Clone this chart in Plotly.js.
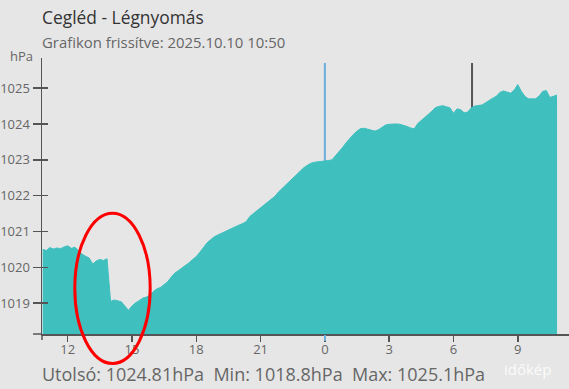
<!DOCTYPE html>
<html>
<head>
<meta charset="utf-8">
<script src="https://cdn.plot.ly/plotly-3.0.1.min.js"></script>
<style>
  html, body { margin: 0; padding: 0; background: #e6e6e6; }
  #chart { width: 569px; height: 389px; }
</style>
</head>
<body>
<div id="chart"></div>
<script>
// Cegléd air pressure, last 24 hours, 10-minute readings (hPa)
const times = [
  '2025-10-09 10:50',
  '2025-10-09 11:00','2025-10-09 11:10','2025-10-09 11:20','2025-10-09 11:30','2025-10-09 11:40','2025-10-09 11:50',
  '2025-10-09 12:00','2025-10-09 12:10','2025-10-09 12:20','2025-10-09 12:30','2025-10-09 12:40','2025-10-09 12:50',
  '2025-10-09 13:00','2025-10-09 13:10','2025-10-09 13:20','2025-10-09 13:30','2025-10-09 13:40','2025-10-09 13:50',
  '2025-10-09 14:00','2025-10-09 14:10','2025-10-09 14:20','2025-10-09 14:30','2025-10-09 14:40','2025-10-09 14:50',
  '2025-10-09 15:00','2025-10-09 15:10','2025-10-09 15:20','2025-10-09 15:30','2025-10-09 15:40','2025-10-09 15:50',
  '2025-10-09 16:00','2025-10-09 16:10','2025-10-09 16:20','2025-10-09 16:30','2025-10-09 16:40','2025-10-09 16:50',
  '2025-10-09 17:00','2025-10-09 17:10','2025-10-09 17:20','2025-10-09 17:30','2025-10-09 17:40','2025-10-09 17:50',
  '2025-10-09 18:00','2025-10-09 18:10','2025-10-09 18:20','2025-10-09 18:30','2025-10-09 18:40','2025-10-09 18:50',
  '2025-10-09 19:00','2025-10-09 19:10','2025-10-09 19:20','2025-10-09 19:30','2025-10-09 19:40','2025-10-09 19:50',
  '2025-10-09 20:00','2025-10-09 20:10','2025-10-09 20:20','2025-10-09 20:30','2025-10-09 20:40','2025-10-09 20:50',
  '2025-10-09 21:00','2025-10-09 21:10','2025-10-09 21:20','2025-10-09 21:30','2025-10-09 21:40','2025-10-09 21:50',
  '2025-10-09 22:00','2025-10-09 22:10','2025-10-09 22:20','2025-10-09 22:30','2025-10-09 22:40','2025-10-09 22:50',
  '2025-10-09 23:00','2025-10-09 23:10','2025-10-09 23:20','2025-10-09 23:30','2025-10-09 23:40','2025-10-09 23:50',
  '2025-10-10 00:00','2025-10-10 00:10','2025-10-10 00:20','2025-10-10 00:30','2025-10-10 00:40','2025-10-10 00:50',
  '2025-10-10 01:00','2025-10-10 01:10','2025-10-10 01:20','2025-10-10 01:30','2025-10-10 01:40','2025-10-10 01:50',
  '2025-10-10 02:00','2025-10-10 02:10','2025-10-10 02:20','2025-10-10 02:30','2025-10-10 02:40','2025-10-10 02:50',
  '2025-10-10 03:00','2025-10-10 03:10','2025-10-10 03:20','2025-10-10 03:30','2025-10-10 03:40','2025-10-10 03:50',
  '2025-10-10 04:00','2025-10-10 04:10','2025-10-10 04:20','2025-10-10 04:30','2025-10-10 04:40','2025-10-10 04:50',
  '2025-10-10 05:00','2025-10-10 05:10','2025-10-10 05:20','2025-10-10 05:30','2025-10-10 05:40','2025-10-10 05:50',
  '2025-10-10 06:00','2025-10-10 06:10','2025-10-10 06:20','2025-10-10 06:30','2025-10-10 06:40','2025-10-10 06:50',
  '2025-10-10 07:00','2025-10-10 07:10','2025-10-10 07:20','2025-10-10 07:30','2025-10-10 07:40','2025-10-10 07:50',
  '2025-10-10 08:00','2025-10-10 08:10','2025-10-10 08:20','2025-10-10 08:30','2025-10-10 08:40','2025-10-10 08:50',
  '2025-10-10 09:00','2025-10-10 09:10','2025-10-10 09:20','2025-10-10 09:30','2025-10-10 09:40','2025-10-10 09:50',
  '2025-10-10 10:00','2025-10-10 10:10','2025-10-10 10:20','2025-10-10 10:30','2025-10-10 10:40','2025-10-10 10:50'
];

const pressure = [
  1020.50,
  1020.47, 1020.55, 1020.51, 1020.54, 1020.52, 1020.57,
  1020.60, 1020.53, 1020.56, 1020.47, 1020.37, 1020.31,
  1020.26, 1020.09, 1020.18, 1020.22, 1020.19, 1020.24,
  1019.05, 1019.09, 1019.07, 1019.04, 1018.92, 1018.8,
  1018.92, 1019.01, 1019.07, 1019.14, 1019.17, 1019.22,
  1019.33, 1019.40, 1019.44, 1019.51, 1019.60, 1019.73,
  1019.84, 1019.91, 1019.98, 1020.06, 1020.13, 1020.22,
  1020.30, 1020.42, 1020.55, 1020.68, 1020.77, 1020.85,
  1020.90, 1020.95, 1020.99, 1021.04, 1021.08, 1021.13,
  1021.18, 1021.22, 1021.28, 1021.42, 1021.50, 1021.57,
  1021.64, 1021.72, 1021.80, 1021.88, 1021.98, 1022.10,
  1022.20, 1022.28, 1022.38, 1022.48, 1022.58, 1022.67,
  1022.77, 1022.84, 1022.90, 1022.93, 1022.94, 1022.96,
  1022.95, 1022.98, 1023.00, 1023.11, 1023.22, 1023.35,
  1023.48, 1023.61, 1023.71, 1023.80, 1023.87, 1023.88,
  1023.86, 1023.83, 1023.80, 1023.84, 1023.90, 1023.97,
  1023.99, 1024.00, 1024.00, 1023.99, 1023.97, 1023.93,
  1023.89, 1023.86, 1024.01, 1024.09, 1024.18, 1024.27,
  1024.36, 1024.46, 1024.49, 1024.51, 1024.48, 1024.45,
  1024.30, 1024.42, 1024.40, 1024.31, 1024.33, 1024.45,
  1024.50, 1024.51, 1024.53, 1024.59, 1024.66, 1024.72,
  1024.77, 1024.88, 1024.92, 1024.90, 1024.86, 1024.94,
  1025.1, 1024.91, 1024.77, 1024.70, 1024.69, 1024.70,
  1024.78, 1024.91, 1024.93, 1024.74, 1024.77, 1024.81
];

// x axis ticks every 3 hours
const tickTimes = ['2025-10-09 12:00','2025-10-09 15:00','2025-10-09 18:00','2025-10-09 21:00',
                   '2025-10-10 00:00','2025-10-10 03:00','2025-10-10 06:00','2025-10-10 09:00'];
const tickLabels = ['12','15','18','21','0','3','6','9'];

// y axis ticks
const yTicks = [1019, 1020, 1021, 1022, 1023, 1024, 1025];

// day change and sunrise markers
const midnight = '2025-10-10 00:00';
const sunrise = '2025-10-10 06:52';
const markerTop = 1025.7;

const xRange = ['2025-10-09 10:48', '2025-10-10 11:23:30'];
const yRange = [1018.14, 1025.84];

const last = pressure[pressure.length - 1];
const minP = Math.min(...pressure);
const maxP = Math.max(...pressure);
const gap = '\u00a0\u00a0';
const statText = 'Utolsó: ' + last + 'hPa' + gap + 'Min: ' + minP + 'hPa' + gap + 'Max: ' + maxP + 'hPa';

const FONT = '"Open Sans", "Noto Sans", sans-serif';
const AXIS = '#555';
const TEXT = '#666';

const data = [
  {
    x: times, y: pressure,
    type: 'scatter', mode: 'lines',
    fill: 'tozeroy', fillcolor: '#40bfbf',
    line: {color: '#40bfbf', width: 1},
    hoverinfo: 'x+y'
  },
  // empty trace so the overlay axes get their own subplot
  {x: [], y: [], xaxis: 'x2', yaxis: 'y2', type: 'scatter', mode: 'lines', showlegend: false, hoverinfo: 'skip'}
];

const layout = {
  width: 569, height: 389,
  margin: {l: 42, r: 0, t: 58, b: 55, pad: 0},
  paper_bgcolor: '#e6e6e6',
  plot_bgcolor: '#e6e6e6',
  showlegend: false,
  font: {family: FONT, color: TEXT, size: 13},
  xaxis: {
    type: 'date', range: xRange,
    tickmode: 'array', tickvals: tickTimes, ticktext: tickLabels,
    ticks: 'outside', ticklen: 6, tickwidth: 1.5, tickcolor: AXIS,
    showline: true, linecolor: AXIS, linewidth: 1.5,
    showgrid: false, zeroline: false,
    tickfont: {size: 13, color: TEXT},
    ticklabelstandoff: -3
  },
  yaxis: {
    range: yRange,
    tickmode: 'array', tickvals: yTicks,
    ticks: 'outside', ticklen: 8, tickwidth: 1.5, tickcolor: AXIS,
    showline: true, linecolor: AXIS, linewidth: 1.5,
    showgrid: false, zeroline: false,
    tickfont: {size: 13, color: TEXT},
    ticklabelstandoff: 0
  },
  // midnight tick in blue
  xaxis2: {
    type: 'date', range: xRange, overlaying: 'x', anchor: 'y2',
    tickmode: 'array', tickvals: [midnight],
    ticks: 'outside', ticklen: 6, tickwidth: 1.5, tickcolor: '#6aaee0',
    showticklabels: false, showline: false, showgrid: false, zeroline: false
  },
  // inner half of the y tick marks
  yaxis2: {
    range: yRange, overlaying: 'y', anchor: 'x2', side: 'left',
    tickmode: 'array', tickvals: yTicks,
    ticks: 'inside', ticklen: 6, tickwidth: 1.5, tickcolor: AXIS,
    showticklabels: false, showline: false, showgrid: false, zeroline: false
  },
  shapes: [
    {type: 'line', layer: 'below', xref: 'x', yref: 'y', x0: midnight, x1: midnight, y0: yRange[0], y1: markerTop,
     line: {color: '#6aaee0', width: 2}},
    {type: 'line', layer: 'below', xref: 'x', yref: 'y', x0: sunrise, x1: sunrise, y0: yRange[0], y1: markerTop,
     line: {color: '#555', width: 2}},
    // axis lines run slightly past the corner
    {type: 'line', xref: 'paper', yref: 'paper', x0: 0, x1: 0, y0: 0, y1: -0.022, line: {color: AXIS, width: 1.5}},
    {type: 'line', xref: 'paper', yref: 'paper', x0: -0.017, x1: 0, y0: 0, y1: 0, line: {color: AXIS, width: 1.5}},
    // hand-drawn highlight around the pressure jump
    {type: 'circle', xref: 'paper', yref: 'paper', x0: 0.0622, x1: 0.2053, y0: -0.1069, y1: 0.4377,
     line: {color: '#ff0000', width: 3}, fillcolor: 'rgba(0,0,0,0)'}
  ],
  annotations: [
    {text: 'Cegléd - Légnyomás', xref: 'paper', yref: 'paper', x: -0.004, y: 1.1486, xanchor: 'left', yanchor: 'middle',
     showarrow: false, font: {size: 17.4, color: '#333'}},
    {text: 'Grafikon frissítve: 2025.10.10 10:50', xref: 'paper', yref: 'paper', x: -0.004, y: 1.058, xanchor: 'left', yanchor: 'middle',
     showarrow: false, font: {size: 14.9, color: TEXT}},
    {text: 'hPa', xref: 'paper', yref: 'paper', x: -0.064, y: 1.007, xanchor: 'left', yanchor: 'middle',
     showarrow: false, font: {size: 13, color: TEXT}},
    {text: statText, xref: 'paper', yref: 'paper', x: -0.004, y: -0.145, xanchor: 'left', yanchor: 'middle',
     showarrow: false, font: {size: 18, color: TEXT}},
    {text: 'időkép', xref: 'paper', yref: 'paper', x: 0.97, y: -0.125, xanchor: 'right', yanchor: 'middle',
     showarrow: false, font: {size: 15, color: 'rgba(255,255,255,0.85)'}}
  ]
};

Plotly.newPlot('chart', data, layout, {displayModeBar: false, staticPlot: true});
</script>
</body>
</html>
